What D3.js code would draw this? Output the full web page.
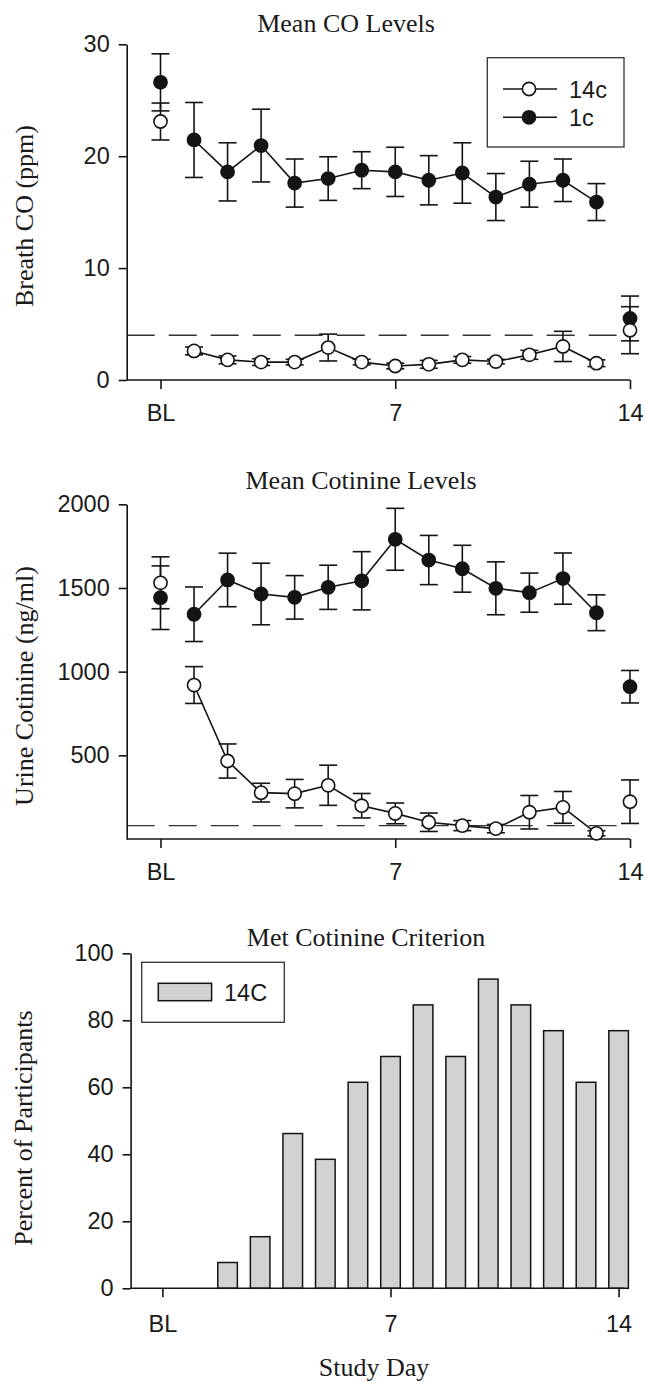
<!DOCTYPE html>
<html>
<head>
<meta charset="utf-8">
<script src="https://cdn.jsdelivr.net/npm/d3@7"></script>
<style>
  body { margin: 0; background: #fff; }
  .tick text { font-family: "Liberation Sans", Arial, sans-serif; font-size: 23.5px; fill: #1a1a1a; }
  .serif { font-family: "Liberation Serif", "Times New Roman", serif; font-size: 26px; fill: #1a1a1a; }
  .sans { font-family: "Liberation Sans", Arial, sans-serif; font-size: 23.5px; fill: #1a1a1a; }
</style>
</head>
<body>
<svg width="645" height="1383"></svg>
<script>
// study days: 0 = baseline (BL), 1..14
const days = d3.range(0, 15);
const dayTicks = [0, 7, 14];
const dayTickLabels = ["BL", "7", "14"];

// breath CO (ppm)
const coMean1c  = [26.6, 21.45, 18.6, 20.95, 17.6, 18.0, 18.75, 18.6, 17.85, 18.5, 16.35, 17.5, 17.85, 15.9, 5.5];
const coErr1c   = [2.55, 3.35, 2.6, 3.25, 2.15, 1.95, 1.65, 2.2, 2.2, 2.7, 2.1, 2.05, 1.9, 1.65, 2.0];
const coMean14c = [23.1, 2.6, 1.8, 1.6, 1.6, 2.9, 1.6, 1.25, 1.4, 1.8, 1.65, 2.25, 3.0, 1.5, 4.45];
const coErr14c  = [1.65, 0.35, 0.35, 0.3, 0.25, 1.2, 0.25, 0.25, 0.35, 0.3, 0.2, 0.4, 1.35, 0.3, 2.1];
const coCutoff = 4;
const coTicks = [0, 10, 20, 30];

// urine cotinine (ng/ml)
const cotMean1c  = [1442, 1343, 1548, 1464, 1444, 1504, 1543, 1791, 1667, 1615, 1498, 1472, 1556, 1352, 910];
const cotErr1c   = [190, 163, 160, 184, 130, 132, 174, 185, 147, 140, 158, 117, 153, 107, 97];
const cotMean14c = [1531, 920, 466, 277, 271, 321, 199, 153, 100, 80, 62, 160, 189, 34, 223];
const cotErr14c  = [155, 110, 102, 56, 85, 120, 73, 62, 55, 30, 25, 100, 95, 15, 130];
const cotCutoff = 80;
const cotTicks = [500, 1000, 1500, 2000];

// percent of 14c participants meeting cotinine criterion
const metPct14c = [0, 0, 7.7, 15.4, 46.2, 38.5, 61.5, 69.2, 84.6, 69.2, 92.3, 84.6, 76.9, 61.5, 76.9];
const pctTicks = [0, 20, 40, 60, 80, 100];

const svg = d3.select("svg");
const ink = "#141414";

function tickFmt(d) { return dayTickLabels[dayTicks.indexOf(d)]; }

function axes(g, x, y, yTicks, axisX, xEnd, xPad) {
  g.append("g")
    .attr("transform", `translate(${axisX},0)`)
    .call(d3.axisLeft(y).tickValues(yTicks).tickFormat(d3.format("d"))
      .tickSize(8).tickSizeOuter(0).tickPadding(9));
  const xa = g.append("g")
    .attr("transform", `translate(0,${y.range()[0]})`)
    .call(d3.axisBottom(x).tickValues(dayTicks).tickFormat(tickFmt).tickSize(9).tickSizeOuter(0).tickPadding(xPad));
  xa.select(".domain").attr("d", `M${axisX},0H${xEnd}`);
  g.selectAll(".domain, .tick line").attr("stroke", ink).attr("stroke-width", 1.6);
}

function meanPanel(top, bottom, yMax, yTicks, s1c, e1c, s14c, e14c, cutoff) {
  const axisX = 126.7;
  const x = d3.scaleLinear().domain([0, 14]).range([160.5, 630]);
  const y = d3.scaleLinear().domain([0, yMax]).range([bottom, top]);
  const g = svg.append("g");

  // dashed criterion line
  g.append("line")
    .attr("x1", axisX).attr("x2", x(13.6))
    .attr("y1", y(cutoff)).attr("y2", y(cutoff))
    .attr("stroke", "#333").attr("stroke-width", 1.3)
    .attr("stroke-dasharray", "28,14");

  axes(g, x, y, yTicks, axisX, x(14), 15);

  const series = [
    { m: s1c, e: e1c, fill: ink },
    { m: s14c, e: e14c, fill: "#fff" },
  ];
  // error bars
  series.forEach((s) => {
    const eb = g.append("g").attr("stroke", ink).attr("stroke-width", 1.6);
    eb.selectAll("line.v").data(days).enter().append("line")
      .attr("x1", (d) => x(d)).attr("x2", (d) => x(d))
      .attr("y1", (d) => y(s.m[d] + s.e[d])).attr("y2", (d) => y(s.m[d] - s.e[d]));
    [1, -1].forEach((sign) => {
      eb.selectAll(null).data(days).enter().append("line")
        .attr("x1", (d) => x(d) - 9).attr("x2", (d) => x(d) + 9)
        .attr("y1", (d) => y(s.m[d] + sign * s.e[d])).attr("y2", (d) => y(s.m[d] + sign * s.e[d]));
    });
  });
  // connecting lines (days 1..13)
  const line = d3.line().x((d) => x(d[0])).y((d) => y(d[1]));
  series.forEach((s) => {
    g.append("path")
      .attr("d", line(d3.range(1, 14).map((d) => [d, s.m[d]])))
      .attr("fill", "none").attr("stroke", ink).attr("stroke-width", 1.6);
  });
  // markers
  series.forEach((s) => {
    g.selectAll(null).data(days).enter().append("circle")
      .attr("cx", (d) => x(d)).attr("cy", (d) => y(s.m[d]))
      .attr("r", 6.6)
      .attr("fill", s.fill).attr("stroke", ink).attr("stroke-width", 1.6);
  });
  return g;
}

// ---- panel 1: CO
meanPanel(44.3, 380, 30, coTicks, coMean1c, coErr1c, coMean14c, coErr14c, coCutoff);
svg.append("text").attr("class", "serif").attr("x", 346).attr("y", 32)
  .attr("text-anchor", "middle").text("Mean CO Levels");
svg.append("text").attr("class", "serif")
  .attr("transform", "translate(33,216) rotate(-90)")
  .attr("text-anchor", "middle").text("Breath CO (ppm)");

// legend
const leg = svg.append("g");
leg.append("rect").attr("x", 487.3).attr("y", 57.7).attr("width", 136.7).attr("height", 89.3)
  .attr("fill", "#fff").attr("stroke", "#333").attr("stroke-width", 1.3);
[["14c", "#fff", 89], ["1c", ink, 117.3]].forEach(([lab, fill, ly]) => {
  leg.append("line").attr("x1", 503).attr("x2", 557).attr("y1", ly).attr("y2", ly)
    .attr("stroke", ink).attr("stroke-width", 1.6);
  leg.append("circle").attr("cx", 529).attr("cy", ly).attr("r", 6.6)
    .attr("fill", fill).attr("stroke", ink).attr("stroke-width", 1.6);
  leg.append("text").attr("class", "sans").attr("x", 569).attr("y", ly + 8.5).text(lab);
});

// ---- panel 2: cotinine
meanPanel(504.3, 839, 2000, cotTicks, cotMean1c, cotErr1c, cotMean14c, cotErr14c, cotCutoff);
svg.append("text").attr("class", "serif").attr("x", 361).attr("y", 489)
  .attr("text-anchor", "middle").text("Mean Cotinine Levels");
svg.append("text").attr("class", "serif")
  .attr("transform", "translate(33,686) rotate(-90)")
  .attr("text-anchor", "middle").text("Urine Cotinine (ng/ml)");

// ---- panel 3: bars
{
  const axisX = 130.6;
  const x = d3.scaleLinear().domain([0, 14]).range([162.4, 618.6]);
  const y = d3.scaleLinear().domain([0, 100]).range([1288.3, 953.3]);
  const g = svg.append("g");
  const bw = 19.6;
  g.selectAll("rect").data(days.filter((d) => metPct14c[d] > 0)).enter().append("rect")
    .attr("x", (d) => x(d) - bw / 2)
    .attr("y", (d) => y(metPct14c[d]))
    .attr("width", bw)
    .attr("height", (d) => y(0) - y(metPct14c[d]))
    .attr("fill", "#d2d2d2").attr("stroke", ink).attr("stroke-width", 1.5);
  axes(g, x, y, pctTicks, axisX, x(14) + bw / 2 - 4, 18);

  svg.append("text").attr("class", "serif").attr("x", 366).attr("y", 946)
    .attr("text-anchor", "middle").text("Met Cotinine Criterion");
  svg.append("text").attr("class", "serif")
    .attr("transform", "translate(32,1128) rotate(-90)")
    .attr("text-anchor", "middle").text("Percent of Participants");
  svg.append("text").attr("class", "serif").attr("x", 374).attr("y", 1376)
    .attr("text-anchor", "middle").text("Study Day");

  const lg = svg.append("g");
  lg.append("rect").attr("x", 141.7).attr("y", 962.3).attr("width", 142.6).attr("height", 60)
    .attr("fill", "#fff").attr("stroke", "#333").attr("stroke-width", 1.3);
  lg.append("rect").attr("x", 158.3).attr("y", 983.3).attr("width", 53.3).attr("height", 17.4)
    .attr("fill", "#d2d2d2").attr("stroke", ink).attr("stroke-width", 1.5);
  lg.append("text").attr("class", "sans").attr("x", 224).attr("y", 1001).text("14C");
}
</script>
</body>
</html>
